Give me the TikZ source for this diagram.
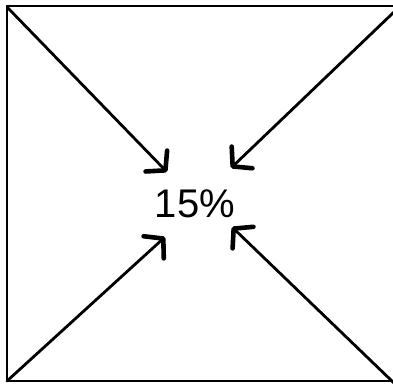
\documentclass[tikz,border=0pt]{standalone}
\usepackage{fontspec}
\setmainfont{Liberation Sans}
\usetikzlibrary{arrows.meta, positioning}

\begin{document}
\begin{tikzpicture}[x=1pt, y=-1pt,
    pijl/.style={line width=2.8pt, line cap=round,
        -{Straight Barb[length=13pt, width=30pt, line width=4.6pt, round]}},
    rand/.style={line width=2pt}]
    \useasboundingbox (0,0) rectangle (393,384);

    % Kader (rechterkant valt buiten het beeld)
    \draw[rand] (7,6) rectangle (400,381);

    % Tekst in het midden
    \node[font=\fontsize{40}{48}\selectfont, inner sep=0pt] (pct) at (195,203.5) {15\%};

    % Hoeken en pijlpunten
    \coordinate (lb) at (7,7);
    \coordinate (rb) at (394,12);
    \coordinate (lo) at (7,381);
    \coordinate (ro) at (394,383);
    \coordinate (plb) at (167,172);
    \coordinate (prb) at (231,168);
    \coordinate (plo) at (165,237);
    \coordinate (pro) at (232,227);

    % Pijlen naar het midden
    \draw[pijl] (lb) -- (plb);
    \draw[pijl] (rb) -- (prb);
    \draw[pijl] (lo) -- (plo);
    \draw[pijl] (ro) -- (pro);
\end{tikzpicture}
\end{document}
